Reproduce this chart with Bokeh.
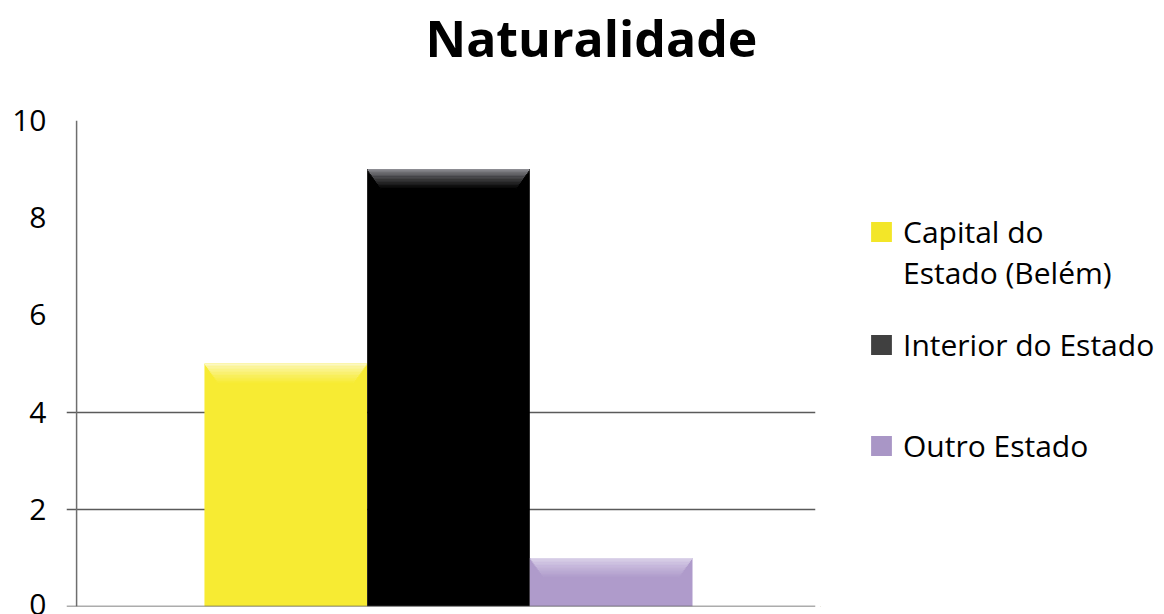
import numpy as np
from bokeh.plotting import figure
from bokeh.layouts import row
from bokeh.models import Range1d, FixedTicker, Span, Legend, LegendItem, Title
from bokeh.embed import file_html
from bokeh.resources import INLINE

# ---- data ----
title_text = "Naturalidade"
categories = ["Capital do\nEstado (Belém)", "Interior do Estado", "Outro Estado"]
values = [5, 9, 1]
bar_colors = ["#F7EB33", "#000000", "#AF9BCB"]
top_highlight = ["#FCF8C0", "#8C8C92", "#DCD4EA"]
legend_colors = ["#F3E628", "#404040", "#A996C6"]
y_ticks = [0, 2, 4, 6, 8, 10]
grid_ticks = [0, 2, 4]

FONT = "Open Sans"

p = figure(
    output_backend="svg", toolbar_location=None,
    width=820, height=614,
    min_border_left=66, min_border_right=5, min_border_top=120, min_border_bottom=8,
    x_range=Range1d(-1.348, 3.256), y_range=Range1d(0, 10),
)
p.outline_line_color = None
p.background_fill_color = "white"
p.border_fill_color = "white"

# spacer between title and plot area, then the title itself
p.add_layout(Title(text=" ", text_font_size="1px", standoff=46), "above")
p.add_layout(Title(text=title_text, text_font=FONT, text_font_size="50px",
                   text_font_style="bold", text_color="black",
                   align="left", offset=359, standoff=0), "above")

# axes
p.xaxis.visible = False
ya = p.yaxis[0]
ya.ticker = FixedTicker(ticks=y_ticks)
ya.axis_line_color = None
ya.major_tick_line_color = None
ya.minor_tick_line_color = None
ya.major_tick_out = 0
ya.major_tick_in = 0
ya.major_label_standoff = 20
ya.major_label_text_font = FONT
ya.major_label_text_font_size = "30px"
ya.major_label_text_color = "black"

p.xgrid.visible = False
p.ygrid.ticker = FixedTicker(ticks=grid_ticks)
p.ygrid.grid_line_color = "#5a5a5a"
p.ygrid.grid_line_width = 1.3

# y axis line (just right of the tick stubs)
p.add_layout(Span(location=-1.286, dimension="height", line_color="#6e6e6e",
                  line_width=1.5, level="underlay"))

# bars
x = list(range(len(categories)))
for i in x:
    p.vbar(x=[i], top=[values[i]], bottom=0, width=1.0,
           fill_color=bar_colors[i], line_color=None)

# bevel-like highlight at the top of each bar (trapezoid of gradient strips)
def mix(c1, c2, t):
    a = np.array([int(c1[k:k + 2], 16) for k in (1, 3, 5)], float)
    b = np.array([int(c2[k:k + 2], 16) for k in (1, 3, 5)], float)
    m = a * (1 - t) + b * t
    return "#%02x%02x%02x" % tuple(int(round(v)) for v in m)

n_strips = 14
band = 0.42
inset = 0.09
step = band / n_strips
for k in range(n_strips):
    t = k / (n_strips - 1)
    cols = [mix(top_highlight[i], bar_colors[i], t ** 0.8) for i in x]
    tops = [v - k * step for v in values]
    bots = [v - (k + 1.3) * step for v in values]
    w = 1.0 - 2 * inset * (k + 0.5) / n_strips
    p.vbar(x=x, top=tops, bottom=bots, width=w, fill_color=cols, line_color=None)

# baseline over the bars
p.add_layout(Span(location=0, dimension="width", line_color="#5a5a5a", line_width=1.3))

# ---- legend panel ----
q = figure(
    output_backend="svg", toolbar_location=None,
    width=344, height=614, min_border=0,
    min_border_left=0, min_border_right=0, min_border_top=0, min_border_bottom=0,
    x_range=Range1d(100, 101), y_range=Range1d(100, 101),
    x_axis_location=None, y_axis_location=None,
)
q.outline_line_color = None
q.xgrid.visible = False
q.ygrid.visible = False
q.background_fill_color = "white"
q.border_fill_color = "white"

leg_style = dict(padding=0, margin=0, spacing=0,
                 glyph_width=26, glyph_height=25, label_standoff=9,
                 border_line_color=None, background_fill_alpha=0,
                 label_text_font=FONT, label_text_font_size="30px",
                 label_text_color="black", label_text_line_height=1.37)

# one legend per wrapped label line; swatch only on the first line
line_vy = {0: [354, 313], 1: [241], 2: [140]}
for i in x:
    # same bars, drawn out of view here: only their legend swatches show
    r = q.vbar(x=[i], top=[values[i]], width=1.0, fill_color=legend_colors[i], line_color=None)
    lines = categories[i].split("\n")
    for j, txt in enumerate(lines):
        if j == 0:
            rr = r
        else:
            rr = q.vbar(x=[i], top=[values[i]], width=1.0, fill_alpha=0, line_color=None)
        leg = Legend(items=[LegendItem(label=txt, renderers=[rr])],
                     location=(48, line_vy[i][j]), **leg_style)
        q.add_layout(leg, "center")

layout = row(p, q)
open("out.html", "w").write(file_html(layout, INLINE))
